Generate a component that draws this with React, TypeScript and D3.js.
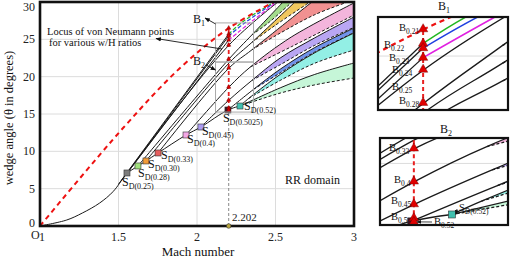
import React from 'react';
import * as d3 from 'd3';

type P = [number, number];

// ---------- axes ----------
const xTickValues = [1, 1.5, 2, 2.5, 3];
const xTickLabels = ['1', '1.5', '2', '2.5', '3'];
const yTickValues = [0, 5, 10, 15, 20, 25, 30];
const xGridValues = [1.5, 2, 2.5];
const yGridValues = [5, 10, 15, 20, 25];

// ---------- curves (Mach, theta) ----------
const transitionCurve: P[] = [[1, 0], [1.17, 0.8], [1.27, 1.74], [1.38, 3.08], [1.465, 4.6], [1.554, 7.1], [2.204, 24.24], [2.516, 30]];
const vonNeumannCurve: P[] = [[1, 0], [1.529, 13.12], [1.892, 21.16], [2.204, 26.52], [2.49, 30]];

// SD points
const sdNames = ['0.25', '0.28', '0.30', '0.33', '0.4', '0.45', '0.5025', '0.52'];
const sdMach = [1.554, 1.624, 1.675, 1.752, 1.93, 2.025, 2.197, 2.274];
const sdTheta = [7.1, 8.04, 8.71, 9.78, 12.19, 13.26, 15.54, 16.07];

// von Neumann (B) points at M = 2.202
const vnMach = 2.202;
const bNames = ['0.21', '0.22', '0.23', '0.24', '0.25', '0.28', '0.33', '0.4', '0.45', '0.5', '0.52'];
const bTheta = [26.52, 25.71, 25.45, 24.91, 24.24, 22.37, 21.16, 18.62, 16.87, 15.8, 15.5];

// thin lines w/H = 0.22..0.24
const thinStart: P[] = [[1.5, 5.6], [1.52, 6.1], [1.54, 6.65]];
const thinTail022: P[] = [[2.202, 25.71], [2.3, 27.5], [2.495, 30]];
const thinTail023: P[] = [[2.202, 25.45], [2.31, 27.3], [2.5, 30]];
const thinTail024: P[] = [[2.202, 24.91], [2.33, 27.1], [2.508, 30]];

// bands: solid and dashed boundaries
const band028Solid: P[] = [[1.624, 8.04], [2.204, 22.37], [2.35, 25.6], [2.548, 30]];
const band028Dashed: P[] = [[2.35, 25.6], [2.46, 27.3], [2.605, 30]];
const band030Solid: P[] = [[1.675, 8.71], [2.204, 21.83], [2.35, 24.6], [2.624, 30]];
const band030Dashed: P[] = [[2.35, 24.6], [2.5, 26.9], [2.72, 30]];
const band033Solid: P[] = [[1.752, 9.78], [2.204, 21.16], [2.35, 23.6], [2.732, 30]];
const band033Dashed: P[] = [[2.35, 23.6], [2.51, 25.6], [2.75, 28.3], [2.96, 30]];
const band040Solid: P[] = [[1.93, 12.19], [2.204, 18.62], [2.34, 21.3], [2.6, 25.3], [3.0, 29.87]];
const band040Dashed: P[] = [[2.34, 21.3], [2.6, 24.0], [3.0, 28.26]];
const band045Solid: P[] = [[2.025, 13.26], [2.204, 16.87], [2.35, 19.5], [2.53, 22.5], [2.75, 25.2], [3.0, 27.99]];
const band045Dashed: P[] = [[2.35, 19.5], [2.53, 21.6], [2.75, 24.2], [3.0, 26.6]];
const band050Solid: P[] = [[2.197, 15.54], [2.36, 18.3], [2.53, 21.0], [2.75, 23.9], [3.0, 26.5]];
const band050Dashed: P[] = [[2.36, 18.3], [2.53, 20.5], [2.75, 23.3], [3.0, 25.9]];
const band052Solid: P[] = [[2.274, 16.07], [2.33, 17.1], [2.53, 20.3], [2.75, 23.2], [3.0, 25.85]];
const band052Dashed: P[] = [[2.33, 17.1], [2.53, 19.5], [2.75, 21.8], [3.0, 23.57]];
const band055Solid: P[] = [[2.274, 16.07], [2.53, 18.5], [2.75, 20.3], [3.0, 21.83]];
const band055Dashed: P[] = [[2.274, 16.07], [2.53, 17.8], [2.75, 18.9], [3.0, 19.82]];

// zoom windows (Mach range, theta range)
const box1Mach: P = [2.118, 2.36];
const box2Mach: P = [2.138, 2.38];
const box1Theta: P = [21.96, 27.2];
const box2Theta: P = [15.26, 21.96];

// ---------- styles ----------
const FONT = '"Liberation Serif", "Times New Roman", serif';
const bandColors = ['#a3dc8c', '#f1c75e', '#f19191', '#f3b5dc', '#b9a6f3', '#7192ea', '#93efe5', '#c6f6d8'];
const sdColors = ['#7c7c7c', '#a2e27e', '#f29b38', '#e65f5f', '#f3a8e6', '#ab9cf2', '#3b1422', '#3fbfae'];
const thinColors = ['#22b822', '#2040e0', '#e020e0'];
const sdLabelOffsets: P[] = [[-5, 13], [0, 11], [2, 7], [3, 6], [1, 8], [1, 8], [-5, 12], [4, 4]];

type Scale = d3.ScaleLinear<number, number>;

const bands = [
  { solid: band028Solid, dashed: band028Dashed },
  { solid: band030Solid, dashed: band030Dashed },
  { solid: band033Solid, dashed: band033Dashed },
  { solid: band040Solid, dashed: band040Dashed },
  { solid: band045Solid, dashed: band045Dashed },
  { solid: band050Solid, dashed: band050Dashed },
  { solid: band052Solid, dashed: band052Dashed },
  { solid: band055Solid, dashed: band055Dashed },
];

function Layer({ xs, ys, big }: { xs: Scale; ys: Scale; big: boolean }) {
  const curve = d3.line<P>().x(d => xs(d[0])).y(d => ys(d[1])).curve(d3.curveCatmullRom.alpha(0.5));
  const sw = big ? 1.3 : 1;
  const sdPts: P[] = sdMach.map((m, i) => [m, sdTheta[i]]);
  const sq = big ? 7 : 6;
  const tri = d3.symbol().type(d3.symbolTriangle).size(big ? 38 : 8)();
  return (
    <g>
      {bands.map((b, i) => {
        const s0 = b.dashed[0][0];
        const sub = b.solid.filter(p => p[0] >= s0 - 1e-9);
        const d = (curve(sub) as string) + 'L' + (curve([...b.dashed].reverse()) as string).slice(1) + 'Z';
        return <path key={'f' + i} d={d} fill={bandColors[i]} stroke="none" />;
      })}
      {bands.map((b, i) => (
        <path key={'s' + i} d={curve(b.solid) as string} fill="none" stroke="#1a1a1a" strokeWidth={sw} />
      ))}
      {bands.map((b, i) => (
        <path key={'d' + i} d={curve(b.dashed) as string} fill="none" stroke="#1a1a1a" strokeWidth={sw} strokeDasharray="3 2" />
      ))}
      <path d={curve(transitionCurve) as string} fill="none" stroke="#1a1a1a" strokeWidth={sw} />
      {thinStart.map((p, i) => (
        <path key={'t' + i} d={curve([p, [vnMach, bTheta[i + 1]]]) as string} fill="none" stroke="#1a1a1a" strokeWidth={sw} />
      ))}
      {[thinTail022, thinTail023, thinTail024].map((t, i) => (
        <path key={'tt' + i} d={curve(t) as string} fill="none" stroke={thinColors[i]} strokeWidth={sw + 0.2} strokeDasharray={big ? undefined : '4 2'} />
      ))}
      <path d={curve(sdPts) as string} fill="none" stroke="#1a1a1a" strokeWidth={sw} />
      <path d={curve(vonNeumannCurve) as string} fill="none" stroke="#ee1111" strokeWidth={big ? 2.2 : 2} strokeDasharray="5 4" />
      <line x1={xs(vnMach)} x2={xs(vnMach)} y1={ys(0)} y2={ys(sdTheta[6])} stroke="#888" strokeWidth={1} strokeDasharray="3 2" />
      <line x1={xs(vnMach)} x2={xs(vnMach)} y1={ys(sdTheta[6])} y2={ys(bTheta[0])} stroke="#e82020" strokeWidth={big ? 2 : 1.8} strokeDasharray="4 3" />
      {sdPts.map((p, i) => (
        <rect key={'sq' + i} x={xs(p[0]) - sq / 2} y={ys(p[1]) - sq / 2} width={sq} height={sq} fill={sdColors[i]} stroke="#333" strokeWidth={0.6} />
      ))}
      {bTheta.map((t, i) => (
        <path key={'b' + i} d={tri as string} transform={`translate(${xs(vnMach)},${ys(t)})`} fill="#e00000" stroke="#600" strokeWidth={0.4} />
      ))}
    </g>
  );
}

function Sub({ x, y, main, sub, size, subSize, anchor }: { x: number; y: number; main: string; sub: string; size: number; subSize: number; anchor?: string }) {
  return (
    <text x={x} y={y} fontSize={size} fontFamily={FONT} textAnchor={anchor as any} fill="#111">
      {main}
      <tspan fontSize={subSize} dy={size * 0.25}>{sub}</tspan>
    </text>
  );
}

export default function App() {
  const W = 514, H = 259;
  const x = d3.scaleLinear().domain([1, 3]).range([40, 354]);
  const y = d3.scaleLinear().domain([0, 30]).range([226, 2]);

  const x1 = d3.scaleLinear().domain(box1Mach).range([378, 508]);
  const y1 = d3.scaleLinear().domain(box1Theta).range([110, 17]);
  const x2 = d3.scaleLinear().domain(box2Mach).range([380, 508]);
  const y2 = d3.scaleLinear().domain(box2Theta).range([225, 138]);

  const inset1Labels = [
    { t: '0.21', x: 399, y: 31 }, { t: '0.22', x: 384, y: 48 }, { t: '0.23', x: 389, y: 61 },
    { t: '0.24', x: 392, y: 73 }, { t: '0.25', x: 392, y: 90 }, { t: '0.28', x: 399, y: 104 },
  ];
  const inset2Labels = [
    { t: '0.33', x: 389, y: 151 }, { t: '0.4', x: 394, y: 183 }, { t: '0.45', x: 391, y: 204 }, { t: '0.5', x: 391, y: 220 },
  ];

  return (
    <svg width={W} height={H} style={{ position: 'absolute', left: 0, top: 0, background: '#fff' }} fontFamily={FONT}>
      <defs>
        <clipPath id="cMain"><rect x={40} y={2} width={314} height={224} /></clipPath>
        <clipPath id="cIn1"><rect x={378} y={17} width={130} height={93} /></clipPath>
        <clipPath id="cIn2"><rect x={380} y={138} width={128} height={87} /></clipPath>
        <marker id="ah" viewBox="0 0 10 10" refX={9} refY={5} markerWidth={6} markerHeight={6} orient="auto-start-reverse">
          <path d="M0,1 L10,5 L0,9 z" fill="#111" />
        </marker>
      </defs>
      <rect x={0} y={0} width={W} height={H} fill="#fff" />

      {/* grid */}
      {xGridValues.map(v => <line key={'gx' + v} x1={x(v)} x2={x(v)} y1={y(0)} y2={y(30)} stroke="#dcdcdc" strokeWidth={1} />)}
      {yGridValues.map(v => <line key={'gy' + v} x1={x(1)} x2={x(3)} y1={y(v)} y2={y(v)} stroke="#dcdcdc" strokeWidth={1} />)}

      <g clipPath="url(#cMain)">
        <Layer xs={x} ys={y} big={false} />
      </g>

      {/* zoom boxes */}
      <rect x={x(box1Mach[0])} y={y(box1Theta[1])} width={x(box1Mach[1]) - x(box1Mach[0])} height={y(box1Theta[0]) - y(box1Theta[1])} fill="none" stroke="#aaa" strokeWidth={1} />
      <rect x={x(box1Mach[0])} y={y(box2Theta[1])} width={x(box1Mach[1]) - x(box1Mach[0])} height={y(box2Theta[0]) - y(box2Theta[1])} fill="none" stroke="#aaa" strokeWidth={1} />

      {/* frame */}
      <rect x={40} y={2} width={314} height={224} fill="none" stroke="#111" strokeWidth={2.6} />

      {/* ticks */}
      {xTickValues.map((v, i) => (
        <text key={'xt' + v} x={x(v) + (i === 0 ? 2 : 0)} y={241} fontSize={12} textAnchor="middle" fill="#222">{xTickLabels[i]}</text>
      ))}
      {yTickValues.map(v => (
        <text key={'yt' + v} x={35} y={v === 0 ? 227 : Math.max(y(v) + 4, 11)} fontSize={12} textAnchor="end" fill="#222">{v}</text>
      ))}
      <text x={31} y={239} fontSize={12} fill="#222">O</text>
      <text x={198} y={256} fontSize={13} textAnchor="middle" fill="#111">Mach number</text>
      <text transform="translate(13,118) rotate(-90)" fontSize={12.5} textAnchor="middle" fill="#111">wedge angle (θ in degrees)</text>

      {/* vertical marker at 2.202 */}
      <circle cx={x(vnMach)} cy={y(0)} r={2.3} fill="#b8a640" stroke="#333" strokeWidth={0.6} />
      <text x={232} y={221} fontSize={11} fill="#222">2.202</text>
      <text x={285} y={184} fontSize={12} fill="#111">RR domain</text>

      {/* annotations */}
      <text x={47} y={35} fontSize={10.5} fill="#111">Locus of von Neumann points</text>
      <text x={49} y={46} fontSize={10.5} fill="#111">for various w/H ratios</text>
      <line x1={222} y1={49} x2={156} y2={38.5} stroke="#111" strokeWidth={0.9} markerEnd="url(#ah)" />

      <Sub x={193} y={23} main="B" sub="1" size={12} subSize={8} />
      <line x1={x(box1Mach[0])} y1={y(box1Theta[1]) + 1} x2={205} y2={18} stroke="#111" strokeWidth={0.9} markerEnd="url(#ah)" />
      <Sub x={193} y={65} main="B" sub="2" size={12} subSize={8} />
      <line x1={206} y1={65} x2={x(box1Mach[0])} y2={70} stroke="#111" strokeWidth={0.9} markerEnd="url(#ah)" />

      {/* SD labels */}
      {sdNames.map((n, i) => (
        <Sub key={'sl' + n} x={x(sdMach[i]) + sdLabelOffsets[i][0]} y={y(sdTheta[i]) + sdLabelOffsets[i][1]} main="S" sub={`D(${n})`} size={12} subSize={8} />
      ))}

      {/* inset B1 */}
      <Sub x={438} y={10} main="B" sub="1" size={12} subSize={8} />
      <g clipPath="url(#cIn1)">
        <rect x={378} y={17} width={130} height={93} fill="#fff" />
        <line x1={378} x2={508} y1={y1(25)} y2={y1(25)} stroke="#dcdcdc" />
        <Layer xs={x1} ys={y1} big={true} />
      </g>
      <rect x={378} y={17} width={130} height={93} fill="none" stroke="#111" strokeWidth={2.2} />
      {inset1Labels.map(l => (
        <Sub key={'i1' + l.t} x={l.x} y={l.y} main="B" sub={l.t} size={10.5} subSize={7.5} />
      ))}

      {/* inset B2 */}
      <Sub x={440} y={133} main="B" sub="2" size={12} subSize={8} />
      <g clipPath="url(#cIn2)">
        <rect x={380} y={138} width={128} height={87} fill="#fff" />
        <line x1={380} x2={508} y1={y2(20)} y2={y2(20)} stroke="#dcdcdc" />
        <Layer xs={x2} ys={y2} big={true} />
      </g>
      <rect x={380} y={138} width={128} height={87} fill="none" stroke="#111" strokeWidth={2.2} />
      {inset2Labels.map(l => (
        <Sub key={'i2' + l.t} x={l.x} y={l.y} main="B" sub={l.t} size={10.5} subSize={7.5} />
      ))}
      <Sub x={434} y={225} main="B" sub="0.52" size={10.5} subSize={7.5} />
      <line x1={432} y1={222} x2={x2(vnMach) + 3} y2={y2(bTheta[10])} stroke="#111" strokeWidth={0.8} markerEnd="url(#ah)" />
      <Sub x={459} y={211} main="S" sub="D(0.52)" size={10.5} subSize={7.5} />
      <line x1={457} y1={209} x2={x2(sdMach[7]) + 4} y2={y2(sdTheta[7])} stroke="#111" strokeWidth={0.8} markerEnd="url(#ah)" />
    </svg>
  );
}
